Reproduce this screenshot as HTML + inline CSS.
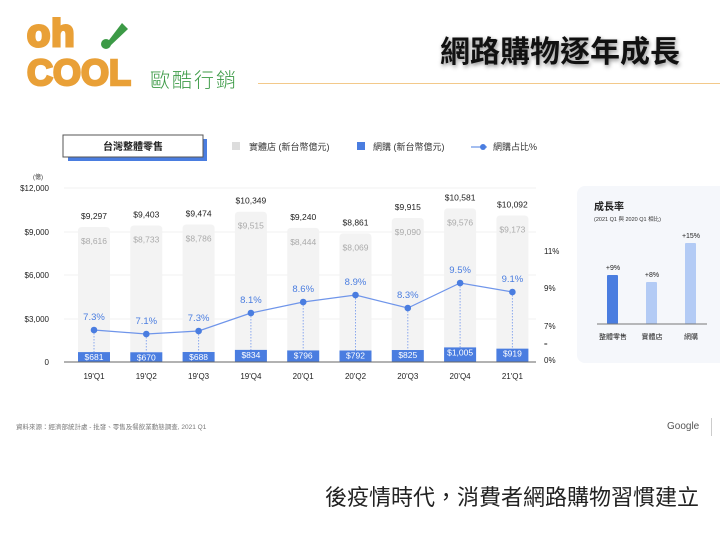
<!DOCTYPE html><html><head><meta charset="utf-8"><style>
body{margin:0;width:720px;height:540px;background:#fff;overflow:hidden;position:relative;font-family:"Liberation Sans","Noto Sans CJK TC",sans-serif}
.a{position:absolute;white-space:nowrap}
</style></head><body>
<div class="a" style="left:27px;top:14px;font:bold 38px/40px 'Liberation Sans',sans-serif;color:#e9a037;-webkit-text-stroke:3px #e9a037;letter-spacing:1px">oh</div>
<svg class="a" style="left:95px;top:20px" width="40" height="32"><polygon points="27,3 33,9 14,27 11,24" fill="#3c9a46"/><circle cx="11" cy="24" r="5" fill="#3c9a46"/></svg>
<div class="a" style="left:27px;top:54px;font:bold 36px/38px 'Liberation Sans',sans-serif;color:#e9a037;-webkit-text-stroke:2.5px #e9a037;letter-spacing:0px">COOL</div>
<div class="a" style="left:150px;top:70px;font:300 20px/22px 'Liberation Sans','Noto Sans CJK TC',sans-serif;color:#3c9a46;letter-spacing:2px">歐酷行銷</div>
<div class="a" style="left:258px;top:83px;width:462px;height:1px;background:#f3c98a"></div>
<div class="a" style="left:440px;top:35px;font:bold 30px/36px 'Liberation Sans','Noto Sans CJK TC',sans-serif;color:#111;text-shadow:1px 2px 4px rgba(0,0,0,.45)">網路購物逐年成長</div>
<svg class="a" style="left:0;top:0" width="720" height="400" font-family="Liberation Sans, Noto Sans CJK TC, sans-serif">
<rect x="68" y="139" width="139" height="22" fill="#4a7de0"/>
<rect x="63" y="135" width="140" height="22" fill="#fff" stroke="#555" stroke-width="1"/>
<text x="133" y="150" font-size="10" font-weight="bold" text-anchor="middle" fill="#222">台灣整體零售</text>
<rect x="232" y="142" width="8" height="8" fill="#ddd"/><text x="249" y="150" font-size="9" fill="#333">實體店 (新台幣億元)</text>
<rect x="357" y="142" width="8" height="8" fill="#4a7de0"/><text x="373" y="150" font-size="9" fill="#333">網購 (新台幣億元)</text>
<line x1="471" y1="147" x2="487" y2="147" stroke="#4a7de0"/><circle cx="483" cy="147" r="3" fill="#4a7de0"/><text x="493" y="150" font-size="9" fill="#333">網購占比%</text>
<text x="38" y="179" font-size="6" text-anchor="middle" fill="#333">(億)</text>
<g font-size="8" fill="#222" text-anchor="end"><text x="49" y="191">$12,000</text><text x="49" y="235">$9,000</text><text x="49" y="278">$6,000</text><text x="49" y="322">$3,000</text><text x="49" y="365">0</text></g>
<g stroke="#f0f0f0"><line x1="64" y1="188" x2="536" y2="188"/><line x1="64" y1="232" x2="536" y2="232"/><line x1="64" y1="275" x2="536" y2="275"/><line x1="64" y1="319" x2="536" y2="319"/></g>
<g font-size="8" fill="#222"><text x="544" y="254">11%</text><text x="544" y="291">9%</text><text x="544" y="329">7%</text><text x="544" y="363">0%</text><text x="544" y="346" font-size="6">=</text></g>
<g id="bars"></g>
<line x1="64" y1="362" x2="536" y2="362" stroke="#666"/>
<rect x="577" y="186" width="150" height="177" rx="8" fill="#f5f7fb"/>
<text x="594" y="210" font-size="10" font-weight="bold" fill="#222">成長率</text>
<text x="594" y="221" font-size="5.5" fill="#333">(2021 Q1 與 2020 Q1 相比)</text>
<rect x="607" y="275" width="11" height="49" rx="1" fill="#4a7de0"/>
<rect x="646" y="282" width="11" height="42" rx="1" fill="#b3cbf5"/>
<rect x="685" y="243" width="11" height="81" rx="1" fill="#b3cbf5"/>
<g font-size="7" fill="#222" text-anchor="middle"><text x="613" y="270">+9%</text><text x="652" y="277">+8%</text><text x="691" y="238">+15%</text>
<text x="613" y="339">整體零售</text><text x="652" y="339">實體店</text><text x="691" y="339">網購</text></g>
<line x1="597" y1="324" x2="707" y2="324" stroke="#777"/>
</svg>
<div class="a" style="left:16px;top:421px;font-size:6.5px;color:#777">資料來源：經濟部統計處 - 批發、零售及餐飲業動態調查, 2021 Q1</div>
<div class="a" style="left:667px;top:421px;font-size:10px;color:#555">Google</div>
<div class="a" style="left:711px;top:418px;width:1px;height:18px;background:#ccc"></div>
<div class="a" style="left:325px;top:484px;font:22px/28px 'Liberation Sans','Noto Sans CJK TC',sans-serif;color:#222">後疫情時代，消費者網路購物習慣建立</div>
<script>
var d=[["19'Q1","$9,297","$8,616","$681",9297,681,"7.3%",330],["19'Q2","$9,403","$8,733","$670",9403,670,"7.1%",334],["19'Q3","$9,474","$8,786","$688",9474,688,"7.3%",331],["19'Q4","$10,349","$9,515","$834",10349,834,"8.1%",313],["20'Q1","$9,240","$8,444","$796",9240,796,"8.6%",302],["20'Q2","$8,861","$8,069","$792",8861,792,"8.9%",295],["20'Q3","$9,915","$9,090","$825",9915,825,"8.3%",308],["20'Q4","$10,581","$9,576","$1,005",10581,1005,"9.5%",283],["21'Q1","$10,092","$9,173","$919",10092,919,"9.1%",292]];
var s="",pts=[];
d.forEach(function(r,i){var c=94+52.3*i,t=362-r[4]*0.01452,b=362-r[5]*0.01452;
s+='<path d="M'+(c-16)+' 362V'+(t+4)+'Q'+(c-16)+' '+t+' '+(c-12)+' '+t+'H'+(c+12)+'Q'+(c+16)+' '+t+' '+(c+16)+' '+(t+4)+'V362Z" fill="#f3f3f3"/>';
s+='<rect x="'+(c-16)+'" y="'+b+'" width="32" height="'+(362-b)+'" fill="#4a7de0"/>';
s+='<text x="'+c+'" y="'+(t-8)+'" font-size="8.5" text-anchor="middle" fill="#222">'+r[1]+'</text>';
s+='<text x="'+c+'" y="'+(t+17)+'" font-size="8.5" text-anchor="middle" fill="#aaa">'+r[2]+'</text>';
s+='<text x="'+c+'" y="'+(b+8)+'" font-size="8.5" text-anchor="middle" fill="#fff">'+r[3]+'</text>';
s+='<text x="'+c+'" y="379" font-size="8" text-anchor="middle" fill="#222">'+r[0]+'</text>';
s+='<line x1="'+c+'" y1="'+r[7]+'" x2="'+c+'" y2="'+b+'" stroke="#8aa8ee" stroke-dasharray="1.5,1.5"/>';
s+='<text x="'+c+'" y="'+(r[7]-10)+'" font-size="9.5" text-anchor="middle" fill="#4a7de0">'+r[6]+'</text>';
pts.push(c+','+r[7]);});
s+='<polyline points="'+pts.join(' ')+'" fill="none" stroke="#6f95ea" stroke-width="1.2"/>';
pts.forEach(function(p){var q=p.split(',');s+='<circle cx="'+q[0]+'" cy="'+q[1]+'" r="3.3" fill="#4a7de0"/>';});
document.getElementById('bars').innerHTML=s;
</script>
</body></html>
